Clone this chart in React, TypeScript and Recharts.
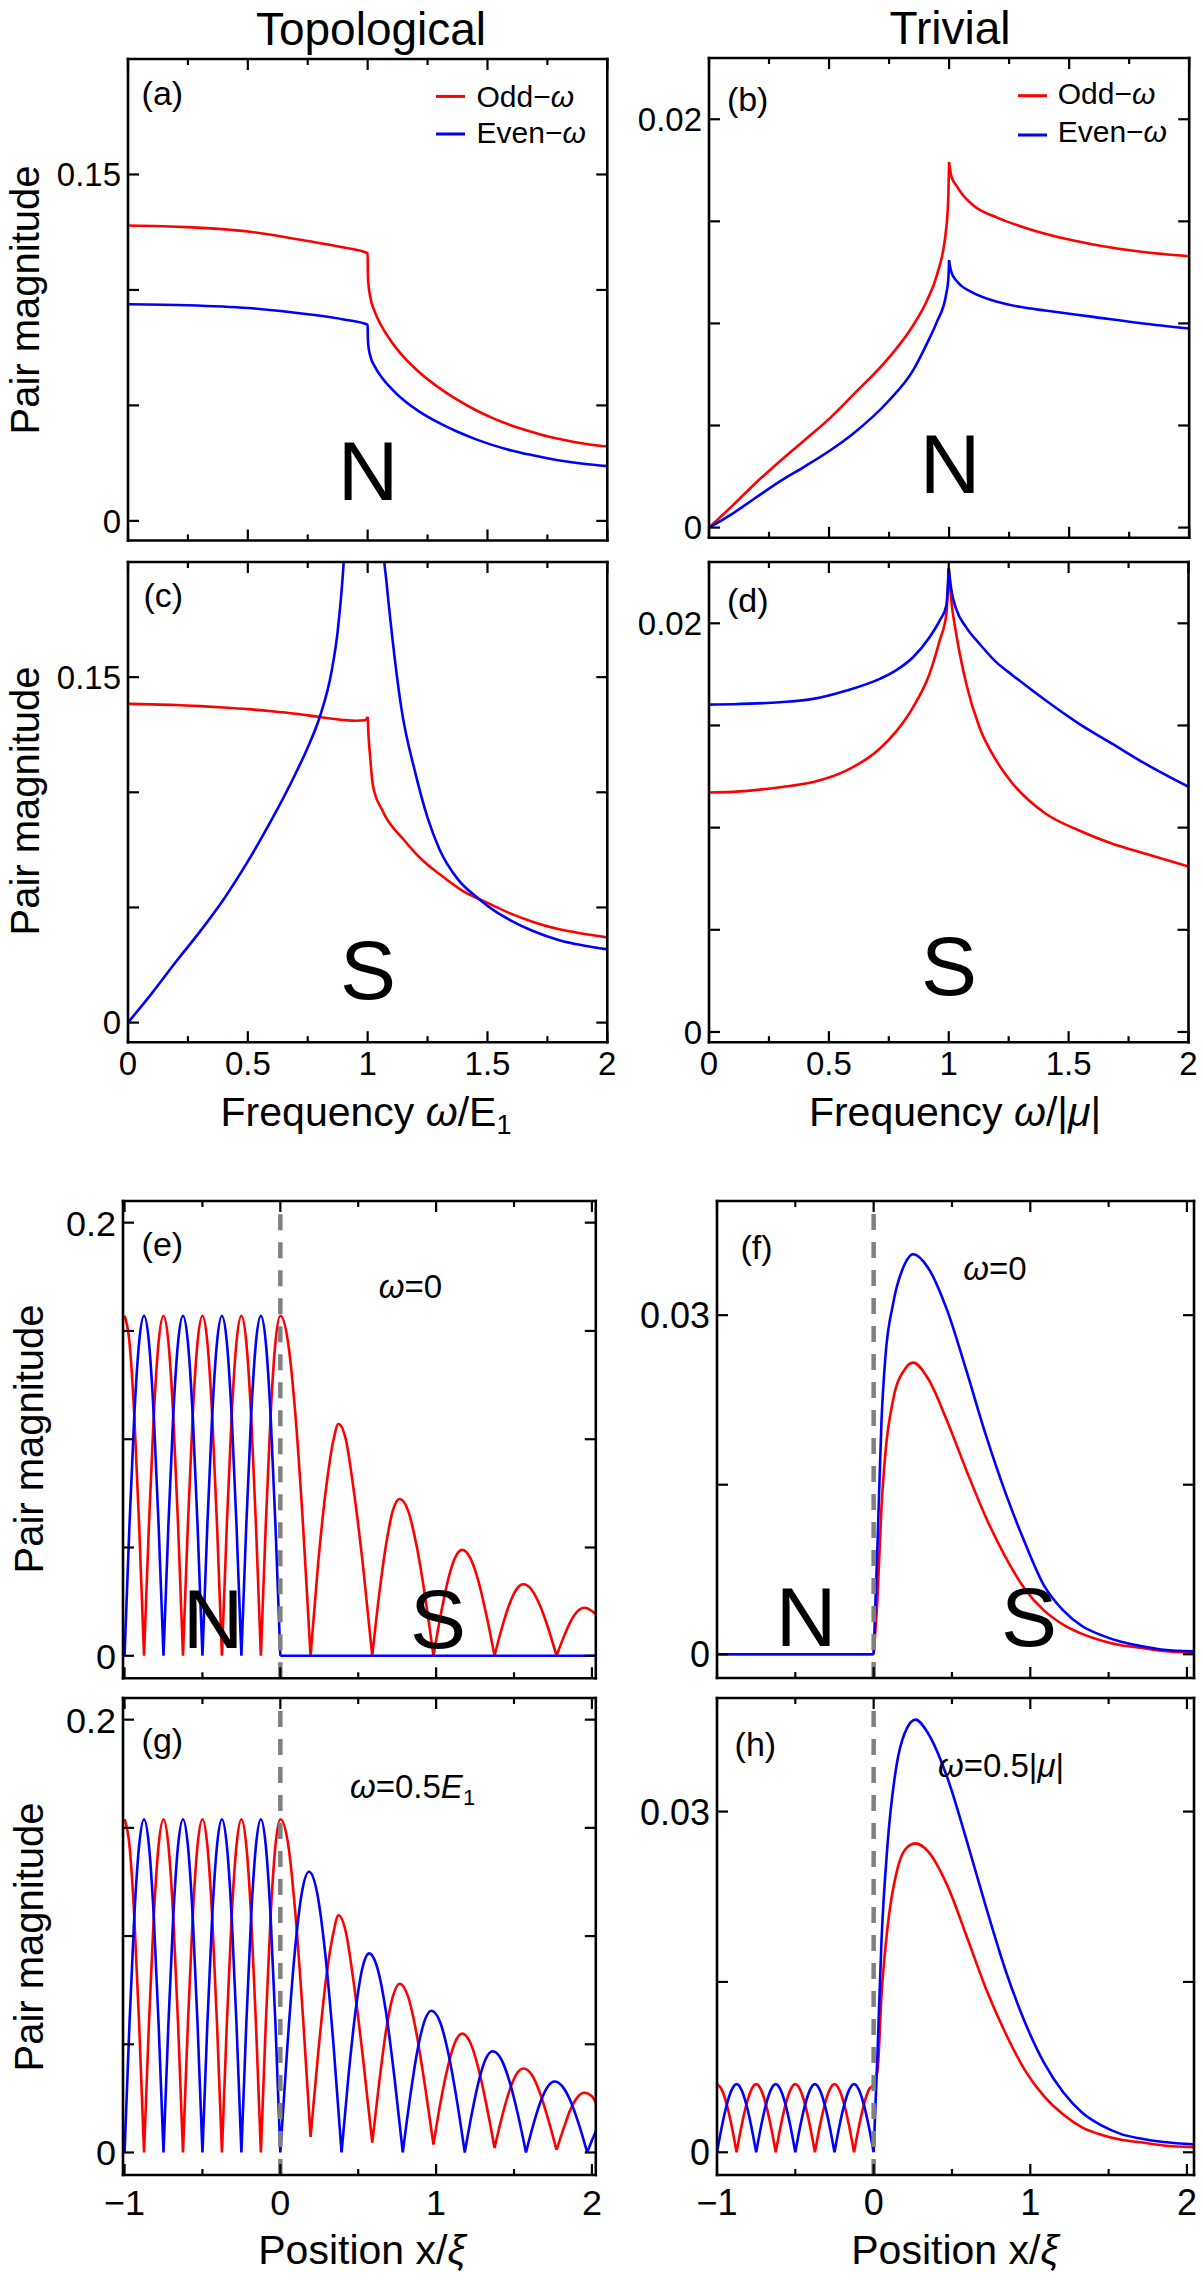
import React from 'react'
import { LineChart, Line, XAxis, YAxis, ReferenceLine } from 'recharts'

const RED = '#ff0000'
const BLUE = '#0000ff'
const FONT = '"Liberation Sans", Arial, Helvetica, sans-serif'

// axes: frequency panels (a)-(d)
const freqTicks = [0, 0.25, 0.5, 0.75, 1, 1.25, 1.5, 1.75, 2]
const freqMajor = [0, 0.5, 1, 1.5, 2]
const freqLabels = ['0', '0.5', '1', '1.5', '2']
const topoTicks = [0, 0.05, 0.1, 0.15]
const topoLabelVals = [0, 0.15]
const topoLabels = ['0', '0.15']
const trivTicks = [0, 0.005, 0.01, 0.015, 0.02]
const trivLabelVals = [0, 0.02]
const trivLabels = ['0', '0.02']

// axes: position panels (e)-(h)
const posTicks = [-1, -0.5, 0, 0.5, 1, 1.5, 2]
const posMajor = [-1, 0, 1, 2]
const posLabels = ['\u22121', '0', '1', '2']
const topoPosTicks = [0, 0.05, 0.1, 0.15, 0.2]
const topoPosLabelVals = [0, 0.2]
const topoPosLabels = ['0', '0.2']
const trivPosTicks = [0, 0.015, 0.03]
const trivPosLabelVals = [0, 0.03]
const trivPosLabels = ['0', '0.03']

// (a) topological, normal region
const aX = [0, 0.25, 0.5, 0.75, 0.9, 1, 1.001, 1.003, 1.01, 1.03, 1.06, 1.1, 1.15, 1.214, 1.3, 1.368, 1.45, 1.522, 1.6, 1.675, 1.75, 1.83, 1.9, 2]
const aOdd = [0.1279, 0.1272, 0.1253, 0.1212, 0.1184, 0.1159, 0.107, 0.103, 0.0975, 0.0905, 0.084, 0.0775, 0.071, 0.0645, 0.0575, 0.0528, 0.048, 0.0445, 0.0413, 0.0388, 0.0366, 0.0348, 0.0335, 0.0322]
const aEven = [0.0938, 0.0934, 0.0922, 0.0895, 0.0872, 0.0849, 0.079, 0.076, 0.0718, 0.0668, 0.062, 0.0572, 0.0523, 0.0474, 0.0423, 0.0389, 0.0354, 0.0328, 0.0305, 0.0287, 0.0271, 0.0257, 0.0247, 0.0237]

// (b) trivial, normal region
const bX = [0, 0.1, 0.187, 0.3, 0.4, 0.507, 0.6, 0.7475, 0.85, 0.907, 0.95, 0.9875, 0.997, 1, 1.003, 1.01, 1.03, 1.05, 1.1, 1.2, 1.3, 1.4, 1.6, 1.8, 2]
const bOdd = [0, 0.0011, 0.0021, 0.0033, 0.0043, 0.0054, 0.0065, 0.0083, 0.0099, 0.0111, 0.0124, 0.0146, 0.0163, 0.0179, 0.01763, 0.01719, 0.01676, 0.0164, 0.01579, 0.01518, 0.01475, 0.01439, 0.01387, 0.01351, 0.01329]
const bEven = [0, 0.0007, 0.0014, 0.0023, 0.003, 0.0038, 0.0046, 0.0062, 0.0077, 0.009, 0.0101, 0.0114, 0.0122, 0.0131, 0.01285, 0.0125, 0.0121, 0.01185, 0.0115, 0.01106, 0.0108, 0.01063, 0.01032, 0.01001, 0.00975]

// (c) topological, superconducting region
const cOddX = [0, 0.1, 0.2, 0.3, 0.4, 0.5, 0.6, 0.7, 0.8, 0.9, 0.95, 0.99, 1, 1.001, 1.003, 1.01, 1.0205, 1.03, 1.06, 1.08, 1.1, 1.15, 1.2, 1.25, 1.3, 1.4, 1.467, 1.5, 1.6, 1.7, 1.8, 1.9, 2]
const cOdd = [0.1384, 0.1382, 0.1379, 0.1374, 0.1368, 0.1361, 0.1352, 0.1341, 0.1327, 0.1314, 0.1311, 0.1313, 0.1328, 0.131, 0.126, 0.116, 0.104, 0.0995, 0.0925, 0.0885, 0.0855, 0.0795, 0.0735, 0.0685, 0.0645, 0.057, 0.0535, 0.052, 0.0472, 0.0434, 0.0405, 0.0386, 0.037]
const cEvenX = [0, 0.1, 0.2, 0.3, 0.4, 0.5, 0.6, 0.7, 0.75, 0.8, 0.85, 0.875, 0.9, 0.93, 0.96, 0.99, 1.01, 1.03, 1.06, 1.08, 1.1, 1.14, 1.2, 1.25, 1.3, 1.376, 1.467, 1.53, 1.6, 1.685, 1.8, 1.9, 2]
const cEven = [0, 0.0128, 0.0264, 0.0395, 0.0537, 0.07, 0.0882, 0.1083, 0.1195, 0.1327, 0.1528, 0.17, 0.2, 0.27, 0.4, 0.8, 0.8, 0.35, 0.215, 0.19, 0.17, 0.137, 0.108, 0.089, 0.0752, 0.0623, 0.0535, 0.0485, 0.0442, 0.04, 0.0358, 0.0335, 0.0318]

// (d) trivial, superconducting region
const dOddX = [0, 0.1, 0.2965, 0.435, 0.574, 0.712, 0.78, 0.851, 0.92, 0.962, 0.99, 1, 1.01, 1.031, 1.073, 1.128, 1.198, 1.267, 1.405, 1.544, 1.683, 1.821, 2]
const dOdd = [0.01172, 0.01175, 0.01198, 0.01223, 0.0128, 0.01386, 0.0147, 0.01589, 0.01753, 0.01915, 0.02046, 0.0227, 0.0212, 0.0195, 0.01704, 0.01491, 0.01329, 0.01215, 0.01068, 0.00986, 0.00921, 0.00872, 0.0081]
const dEvenX = [0, 0.1, 0.2965, 0.435, 0.574, 0.712, 0.78, 0.851, 0.92, 0.962, 0.99, 1, 1.01, 1.031, 1.073, 1.128, 1.198, 1.267, 1.405, 1.544, 1.683, 1.821, 2]
const dEven = [0.01602, 0.01604, 0.01614, 0.0163, 0.01671, 0.01728, 0.0177, 0.01834, 0.01932, 0.02013, 0.02087, 0.0227, 0.0217, 0.0207, 0.0198, 0.019, 0.0181, 0.01745, 0.01622, 0.01508, 0.0141, 0.01312, 0.012]

// sample positions inside the normal lead (x < 0)
const nX = [-1, -0.96875, -0.9375, -0.90625, -0.875, -0.84375, -0.8125, -0.78125, -0.75, -0.71875, -0.6875, -0.65625, -0.625, -0.59375, -0.5625, -0.53125, -0.5, -0.46875, -0.4375, -0.40625, -0.375, -0.34375, -0.3125, -0.28125, -0.25, -0.21875, -0.1875, -0.15625, -0.125, -0.09375, -0.0625, -0.03125, 0]

// (e) topological, omega = 0
const eOddN = [0.157, 0.145, 0.111, 0.06, 0, 0.06, 0.111, 0.145, 0.157, 0.145, 0.111, 0.06, 0, 0.06, 0.111, 0.145, 0.157, 0.145, 0.111, 0.06, 0, 0.06, 0.111, 0.145, 0.157, 0.145, 0.111, 0.06, 0, 0.06, 0.111, 0.145, 0.157]
const eEvenN = [0, 0.06, 0.111, 0.145, 0.157, 0.145, 0.111, 0.06, 0, 0.06, 0.111, 0.145, 0.157, 0.145, 0.111, 0.06, 0, 0.06, 0.111, 0.145, 0.157, 0.145, 0.111, 0.06, 0, 0.06, 0.111, 0.145, 0.157, 0.145, 0.111, 0.06, 0]
const eOddSX = [0.049, 0.097, 0.146, 0.194, 0.243, 0.293, 0.342, 0.373, 0.42, 0.47, 0.53, 0.59, 0.634, 0.678, 0.722, 0.766, 0.82, 0.874, 0.928, 0.983, 1.029, 1.075, 1.121, 1.167, 1.219, 1.271, 1.323, 1.375, 1.421, 1.468, 1.514, 1.56, 1.613, 1.666, 1.72, 1.773, 1.818, 1.862, 1.907, 1.951, 2, 2.03]
const eOddS = [0.145, 0.111, 0.06, 0, 0.043, 0.077, 0.1, 0.107, 0.1, 0.077, 0.042, 0, 0.028, 0.051, 0.067, 0.0724, 0.067, 0.051, 0.028, 0, 0.0187, 0.0346, 0.0452, 0.0489, 0.0452, 0.0346, 0.0187, 0, 0.0126, 0.0233, 0.0305, 0.033, 0.0305, 0.0233, 0.0126, 0, 0.0085, 0.0157, 0.0205, 0.0222, 0.0207, 0.0188]
const eEvenSX = [2.03]
const eEvenS = [0]

// (f) trivial, omega = 0
const fX = [-1, 0, 0.025, 0.05, 0.075, 0.124, 0.198, 0.252, 0.347, 0.47, 0.594, 0.717, 0.841, 0.965, 1.087, 1.21, 1.33, 1.457, 1.58, 1.704, 1.85, 2.05]
const fOdd = [0, 0, 0.0051, 0.013, 0.0178, 0.0225, 0.0252, 0.0258, 0.0244, 0.0206, 0.0162, 0.0121, 0.00862, 0.00578, 0.00388, 0.00262, 0.0018, 0.0012, 0.0008, 0.00057, 0.0003, 0.00015]
const fEven = [0, 0, 0.0099, 0.0206, 0.0263, 0.031, 0.0345, 0.0354, 0.0342, 0.0304, 0.025, 0.01936, 0.0143, 0.00988, 0.00609, 0.00388, 0.0025, 0.00167, 0.0011, 0.00073, 0.0004, 0.00025]

// (g) topological, omega = 0.5 E1
const gOddN = [0.154, 0.142, 0.109, 0.059, 0, 0.059, 0.109, 0.142, 0.154, 0.142, 0.109, 0.059, 0, 0.059, 0.109, 0.142, 0.154, 0.142, 0.109, 0.059, 0, 0.059, 0.109, 0.142, 0.154, 0.142, 0.109, 0.059, 0, 0.059, 0.109, 0.142, 0.154]
const gEvenN = [0, 0.059, 0.109, 0.142, 0.154, 0.142, 0.109, 0.059, 0, 0.059, 0.109, 0.142, 0.154, 0.142, 0.109, 0.059, 0, 0.059, 0.109, 0.142, 0.154, 0.142, 0.109, 0.059, 0, 0.059, 0.109, 0.142, 0.154, 0.142, 0.109, 0.059, 0]
const gOddSX = [0.049, 0.097, 0.146, 0.194, 0.243, 0.293, 0.342, 0.373, 0.42, 0.47, 0.53, 0.59, 0.634, 0.678, 0.722, 0.766, 0.82, 0.874, 0.928, 0.983, 1.029, 1.075, 1.121, 1.167, 1.219, 1.271, 1.323, 1.375, 1.421, 1.468, 1.514, 1.56, 1.613, 1.666, 1.72, 1.773, 1.818, 1.862, 1.907, 1.951, 2, 2.03]
const gOddS = [0.143, 0.11, 0.062, 0.0072, 0.046, 0.08, 0.102, 0.1096, 0.102, 0.079, 0.044, 0.0046, 0.032, 0.056, 0.072, 0.078, 0.072, 0.055, 0.031, 0.0037, 0.0235, 0.0395, 0.0508, 0.0549, 0.0508, 0.039, 0.022, 0.0021, 0.016, 0.028, 0.036, 0.0388, 0.036, 0.0276, 0.0152, 0.0012, 0.011, 0.0198, 0.0255, 0.0276, 0.026, 0.0225]
const gEvenSX = [0.046, 0.092, 0.138, 0.184, 0.236, 0.288, 0.341, 0.393, 0.437, 0.482, 0.526, 0.57, 0.624, 0.678, 0.732, 0.786, 0.832, 0.878, 0.924, 0.97, 1.024, 1.077, 1.131, 1.184, 1.229, 1.274, 1.318, 1.363, 1.417, 1.47, 1.524, 1.577, 1.623, 1.669, 1.715, 1.761, 1.813, 1.866, 1.918, 1.97, 2, 2.03]
const gEvenS = [0.05, 0.092, 0.12, 0.1297, 0.12, 0.092, 0.05, 0, 0.035, 0.065, 0.085, 0.092, 0.085, 0.065, 0.035, 0, 0.025, 0.0463, 0.0605, 0.0655, 0.0605, 0.0463, 0.025, 0, 0.0179, 0.0331, 0.0432, 0.0468, 0.0432, 0.0331, 0.0179, 0, 0.0126, 0.0232, 0.0303, 0.0328, 0.0303, 0.0232, 0.0126, 0, 0.0055, 0.0105]

// (h) trivial, omega = 0.5 |mu|
const hOddN = [0.006, 0.0055, 0.0042, 0.0023, 0, 0.0023, 0.0042, 0.0055, 0.006, 0.0055, 0.0042, 0.0023, 0, 0.0023, 0.0042, 0.0055, 0.006, 0.0055, 0.0042, 0.0023, 0, 0.0023, 0.0042, 0.0055, 0.006, 0.0055, 0.0042, 0.0023, 0, 0.0023, 0.0042, 0.0055, 0.006]
const hEvenN = [0, 0.0023, 0.0042, 0.0055, 0.006, 0.0055, 0.0042, 0.0023, 0, 0.0023, 0.0042, 0.0055, 0.006, 0.0055, 0.0042, 0.0023, 0, 0.0023, 0.0042, 0.0055, 0.006, 0.0055, 0.0042, 0.0023, 0, 0.0023, 0.0042, 0.0055, 0.006, 0.0055, 0.0042, 0.0023, 0]
const hSX = [0.025, 0.05, 0.087, 0.149, 0.198, 0.267, 0.347, 0.47, 0.594, 0.717, 0.841, 0.965, 1.087, 1.21, 1.33, 1.457, 1.58, 1.704, 1.85, 2.05]
const hOddS = [0.0072, 0.0138, 0.0196, 0.0248, 0.0266, 0.0272, 0.0265, 0.0235, 0.019, 0.0144, 0.0105, 0.00724, 0.00495, 0.00332, 0.0022, 0.00153, 0.0011, 0.00088, 0.0006, 0.00045]
const hEvenS = [0.0089, 0.0186, 0.0268, 0.0343, 0.0369, 0.0381, 0.0369, 0.033, 0.02745, 0.0216, 0.01605, 0.01147, 0.00789, 0.00528, 0.0035, 0.00234, 0.0016, 0.00121, 0.0009, 0.0007]

type Pt = { x: number; y: number | null }
const pts = (xs: number[], ys: number[]): Pt[] => xs.map((x, i) => ({ x, y: ys[i] }))

// break the smooth curve at cusps (sharp minima or maxima) so they stay pointed
function withCusps(p: Pt[], mode: 'min' | 'max'): Pt[] {
  const out: Pt[] = []
  p.forEach((q, i) => {
    out.push(q)
    if (i === 0 || i === p.length - 1) return
    const a = p[i - 1].y as number
    const b = p[i + 1].y as number
    const y = q.y as number
    const cusp =
      mode === 'min' ? y <= a && y <= b && (y < a || y < b) : y >= a && y >= b && (y > a || y > b)
    if (cusp) {
      out.push({ x: q.x, y: null })
      out.push(q)
    }
  })
  return out
}

type Side = 'top' | 'bottom' | 'left' | 'right'

const near = (a: number, b: number) => Math.abs(a - b) < 1e-9

function makeTick(side: Side, majors: number[], labelVals: number[], labels: string[] | null, fs: number, off: number) {
  return function TickMark(props: any) {
    const { x, y, payload } = props
    const v: number = payload.value
    const len = majors.some((m) => near(m, v)) ? 11 : 6
    const li = labels ? labelVals.findIndex((m) => near(m, v)) : -1
    const lab = li >= 0 && labels ? labels[li] : null
    const sw = 2.2
    if (side === 'bottom')
      return (
        <g>
          <line x1={x} y1={y} x2={x} y2={y - len} stroke="#000" strokeWidth={sw} />
          {lab && (
            <text x={x} y={y + off} textAnchor="middle" fontSize={fs} fontFamily={FONT} fill="#000">
              {lab}
            </text>
          )}
        </g>
      )
    if (side === 'top') return <line x1={x} y1={y} x2={x} y2={y + len} stroke="#000" strokeWidth={sw} />
    if (side === 'right') return <line x1={x} y1={y} x2={x - len} y2={y} stroke="#000" strokeWidth={sw} />
    return (
      <g>
        <line x1={x} y1={y} x2={x + len} y2={y} stroke="#000" strokeWidth={sw} />
        {lab && (
          <text x={x - 7} y={y + fs * 0.36} textAnchor="end" fontSize={fs} fontFamily={FONT} fill="#000">
            {lab}
          </text>
        )}
      </g>
    )
  }
}

interface PanelCfg {
  left: number
  top: number
  right: number
  bottom: number
  xDomain: [number, number]
  yDomain: [number, number]
  xTicks: number[]
  xMajor: number[]
  xLabels: string[] | null
  yTicks: number[]
  yLabelVals: number[]
  yLabels: string[]
  series: { data: Pt[]; color: string }[]
  cusp: 'min' | 'max'
  dashed?: boolean
  fs: number
  xOff: number
}

const LW = 100
const RW = 14
const TH = 14
const BH = 64

function Panel({ cfg }: { cfg: PanelCfg }) {
  const w = cfg.right - cfg.left
  const h = cfg.bottom - cfg.top
  const axisLine = { stroke: '#000', strokeWidth: 2.6, strokeLinecap: 'square' as const }
  const common = { tickSize: 0, tickMargin: 0, tickLine: false, interval: 0 as const, axisLine }
  return (
    <div style={{ position: 'absolute', left: cfg.left - LW, top: cfg.top - TH }}>
      <LineChart width={LW + w + RW} height={TH + h + BH} margin={{ top: 0, right: 0, bottom: 0, left: 0 }}>
        <XAxis
          xAxisId="b"
          type="number"
          dataKey="x"
          domain={cfg.xDomain}
          allowDataOverflow
          ticks={cfg.xTicks}
          height={BH}
          {...common}
          tick={makeTick('bottom', cfg.xMajor, cfg.xMajor, cfg.xLabels, cfg.fs, cfg.xOff)}
        />
        <XAxis
          xAxisId="t"
          orientation="top"
          type="number"
          dataKey="x"
          domain={cfg.xDomain}
          allowDataOverflow
          ticks={cfg.xTicks}
          height={TH}
          {...common}
          tick={makeTick('top', cfg.xMajor, [], null, cfg.fs, 0)}
        />
        <YAxis
          yAxisId="l"
          type="number"
          domain={cfg.yDomain}
          allowDataOverflow
          ticks={cfg.yTicks}
          width={LW}
          {...common}
          tick={makeTick('left', cfg.yTicks, cfg.yLabelVals, cfg.yLabels, cfg.fs, 0)}
        />
        <YAxis
          yAxisId="r"
          orientation="right"
          type="number"
          domain={cfg.yDomain}
          allowDataOverflow
          ticks={cfg.yTicks}
          width={RW}
          {...common}
          tick={makeTick('right', cfg.yTicks, [], null, cfg.fs, 0)}
        />
        {cfg.series.map((s, i) => (
          <Line
            key={i}
            xAxisId="b"
            yAxisId="l"
            data={withCusps(s.data, cfg.cusp)}
            dataKey="y"
            type="monotone"
            stroke={s.color}
            strokeWidth={2.6}
            dot={false}
            activeDot={false}
            isAnimationActive={false}
          />
        ))}
        {cfg.dashed && (
          <ReferenceLine xAxisId="b" yAxisId="l" x={0} stroke="#808080" strokeWidth={4.5} strokeDasharray="16 12" />
        )}
      </LineChart>
    </div>
  )
}

const topFs = 33
const botFs = 36

const panels: PanelCfg[] = [
  {
    left: 128.2, top: 59, right: 607.5, bottom: 540.5,
    xDomain: [0, 2], yDomain: [-0.0085, 0.2],
    xTicks: freqTicks, xMajor: freqMajor, xLabels: null,
    yTicks: topoTicks, yLabelVals: topoLabelVals, yLabels: topoLabels,
    series: [{ data: pts(aX, aOdd), color: RED }, { data: pts(aX, aEven), color: BLUE }],
    cusp: 'max', fs: topFs, xOff: 33,
  },
  {
    left: 708.8, top: 58.2, right: 1189, bottom: 538,
    xDomain: [0, 2], yDomain: [-0.0005, 0.023],
    xTicks: freqTicks, xMajor: freqMajor, xLabels: null,
    yTicks: trivTicks, yLabelVals: trivLabelVals, yLabels: trivLabels,
    series: [{ data: pts(bX, bOdd), color: RED }, { data: pts(bX, bEven), color: BLUE }],
    cusp: 'max', fs: topFs, xOff: 33,
  },
  {
    left: 128.2, top: 561.5, right: 607.5, bottom: 1041.7,
    xDomain: [0, 2], yDomain: [-0.0085, 0.2],
    xTicks: freqTicks, xMajor: freqMajor, xLabels: freqLabels,
    yTicks: topoTicks, yLabelVals: topoLabelVals, yLabels: topoLabels,
    series: [{ data: pts(cOddX, cOdd), color: RED }, { data: pts(cEvenX, cEven), color: BLUE }],
    cusp: 'max', fs: topFs, xOff: 33,
  },
  {
    left: 709, top: 561.5, right: 1188.5, bottom: 1041.7,
    xDomain: [0, 2], yDomain: [-0.0005, 0.023],
    xTicks: freqTicks, xMajor: freqMajor, xLabels: freqLabels,
    yTicks: trivTicks, yLabelVals: trivLabelVals, yLabels: trivLabels,
    series: [{ data: pts(dOddX, dOdd), color: RED }, { data: pts(dEvenX, dEven), color: BLUE }],
    cusp: 'max', fs: topFs, xOff: 33,
  },
  {
    left: 123.2, top: 1200.7, right: 596, bottom: 1678,
    xDomain: [-1.01, 2.025], yDomain: [-0.0104, 0.21],
    xTicks: posTicks, xMajor: posMajor, xLabels: null,
    yTicks: topoPosTicks, yLabelVals: topoPosLabelVals, yLabels: topoPosLabels,
    series: [
      { data: [...pts(nX, eOddN), ...pts(eOddSX, eOddS)], color: RED },
      { data: [...pts(nX, eEvenN), ...pts(eEvenSX, eEvenS)], color: BLUE },
    ],
    cusp: 'min', dashed: true, fs: botFs, xOff: 40,
  },
  {
    left: 716.5, top: 1201, right: 1193.5, bottom: 1678,
    xDomain: [-1, 2.045], yDomain: [-0.0021, 0.0401],
    xTicks: posTicks, xMajor: posMajor, xLabels: null,
    yTicks: trivPosTicks, yLabelVals: trivPosLabelVals, yLabels: trivPosLabels,
    series: [{ data: pts(fX, fOdd), color: RED }, { data: pts(fX, fEven), color: BLUE }],
    cusp: 'min', dashed: true, fs: botFs, xOff: 40,
  },
  {
    left: 123.2, top: 1698, right: 596, bottom: 2175,
    xDomain: [-1.01, 2.025], yDomain: [-0.0104, 0.21],
    xTicks: posTicks, xMajor: posMajor, xLabels: posLabels,
    yTicks: topoPosTicks, yLabelVals: topoPosLabelVals, yLabels: topoPosLabels,
    series: [
      { data: [...pts(nX, gOddN), ...pts(gOddSX, gOddS)], color: RED },
      { data: [...pts(nX, gEvenN), ...pts(gEvenSX, gEvenS)], color: BLUE },
    ],
    cusp: 'min', dashed: true, fs: botFs, xOff: 40,
  },
  {
    left: 716.5, top: 1698, right: 1193.5, bottom: 2175,
    xDomain: [-1, 2.045], yDomain: [-0.002, 0.04],
    xTicks: posTicks, xMajor: posMajor, xLabels: posLabels,
    yTicks: trivPosTicks, yLabelVals: trivPosLabelVals, yLabels: trivPosLabels,
    series: [
      { data: [...pts(nX, hOddN), ...pts(hSX, hOddS)], color: RED },
      { data: [...pts(nX, hEvenN), ...pts(hSX, hEvenS)], color: BLUE },
    ],
    cusp: 'min', dashed: true, fs: botFs, xOff: 40,
  },
]

const txt = { fontFamily: FONT, fill: '#000' }
const it = { fontStyle: 'italic' as const }

function Legend({ x, y1, y2, tx, b1, b2 }: { x: number; y1: number; y2: number; tx: number; b1: number; b2: number }) {
  return (
    <g>
      <line x1={x} y1={y1} x2={x + 29} y2={y1} stroke={RED} strokeWidth={3} />
      <line x1={x} y1={y2} x2={x + 29} y2={y2} stroke={BLUE} strokeWidth={3} />
      <text x={tx} y={b1} fontSize={30} {...txt}>
        Odd{'\u2212'}<tspan {...it}>ω</tspan>
      </text>
      <text x={tx} y={b2} fontSize={30} {...txt}>
        Even{'\u2212'}<tspan {...it}>ω</tspan>
      </text>
    </g>
  )
}

function Overlay() {
  const big = 84
  const yLab = (x: number, y: number) => (
    <text transform={`translate(${x},${y}) rotate(-90)`} textAnchor="middle" fontSize={40} {...txt}>
      Pair magnitude
    </text>
  )
  return (
    <svg width={1203} height={2280} style={{ position: 'absolute', left: 0, top: 0, pointerEvents: 'none' }}>
      <text x={371} y={45} textAnchor="middle" fontSize={46} {...txt}>Topological</text>
      <text x={950} y={44} textAnchor="middle" fontSize={46} {...txt}>Trivial</text>

      {yLab(39, 300)}
      {yLab(39, 801)}
      {yLab(43, 1439)}
      {yLab(43, 1937)}

      <text x={366} y={1126} textAnchor="middle" fontSize={41} {...txt}>
        Frequency <tspan {...it}>ω</tspan>/E<tspan fontSize={27} dy={8}>1</tspan>
      </text>
      <text x={955} y={1126} textAnchor="middle" fontSize={41} {...txt}>
        Frequency <tspan {...it}>ω</tspan>/|<tspan {...it}>μ</tspan>|
      </text>
      <text x={362} y={2264} textAnchor="middle" fontSize={41} {...txt}>
        Position x/<tspan {...it}>ξ</tspan>
      </text>
      <text x={955} y={2264} textAnchor="middle" fontSize={41} {...txt}>
        Position x/<tspan {...it}>ξ</tspan>
      </text>

      <text x={141.6} y={105.4} fontSize={34} {...txt}>(a)</text>
      <text x={726.9} y={111} fontSize={34} {...txt}>(b)</text>
      <text x={143.5} y={607.4} fontSize={34} {...txt}>(c)</text>
      <text x={727} y={612.4} fontSize={34} {...txt}>(d)</text>
      <text x={141.6} y={1255.5} fontSize={34} {...txt}>(e)</text>
      <text x={740.4} y={1259} fontSize={34} {...txt}>(f)</text>
      <text x={141.6} y={1752} fontSize={34} {...txt}>(g)</text>
      <text x={734.6} y={1755.5} fontSize={34} {...txt}>(h)</text>

      <Legend x={436} y1={96.4} y2={134} tx={476.5} b1={107} b2={143} />
      <Legend x={1018} y1={95.7} y2={135} tx={1057.7} b1={104} b2={142} />

      <text x={368} y={500} textAnchor="middle" fontSize={big} {...txt}>N</text>
      <text x={950} y={493} textAnchor="middle" fontSize={big} {...txt}>N</text>
      <text x={368} y={999} textAnchor="middle" fontSize={big} {...txt}>S</text>
      <text x={949} y={995} textAnchor="middle" fontSize={big} {...txt}>S</text>
      <text x={213} y={1648} textAnchor="middle" fontSize={big} {...txt}>N</text>
      <text x={438} y={1648} textAnchor="middle" fontSize={big} {...txt}>S</text>
      <text x={806} y={1646} textAnchor="middle" fontSize={big} {...txt}>N</text>
      <text x={1029} y={1646} textAnchor="middle" fontSize={big} {...txt}>S</text>

      <text x={410.5} y={1298} textAnchor="middle" fontSize={33} {...txt}>
        <tspan {...it}>ω</tspan>=0
      </text>
      <text x={995} y={1280} textAnchor="middle" fontSize={33} {...txt}>
        <tspan {...it}>ω</tspan>=0
      </text>
      <text x={350} y={1798} fontSize={33} {...txt}>
        <tspan {...it}>ω</tspan>=0.5<tspan {...it}>E</tspan>
        <tspan fontSize={22} dy={7}>1</tspan>
      </text>
      <text x={938} y={1777} fontSize={33} {...txt}>
        <tspan {...it}>ω</tspan>=0.5|<tspan {...it}>μ</tspan>|
      </text>
    </svg>
  )
}

export default function App() {
  return (
    <div style={{ position: 'absolute', left: 0, top: 0, width: 1203, height: 2280, background: '#fff', overflow: 'hidden' }}>
      {panels.map((p, i) => (
        <Panel key={i} cfg={p} />
      ))}
      <Overlay />
    </div>
  )
}
